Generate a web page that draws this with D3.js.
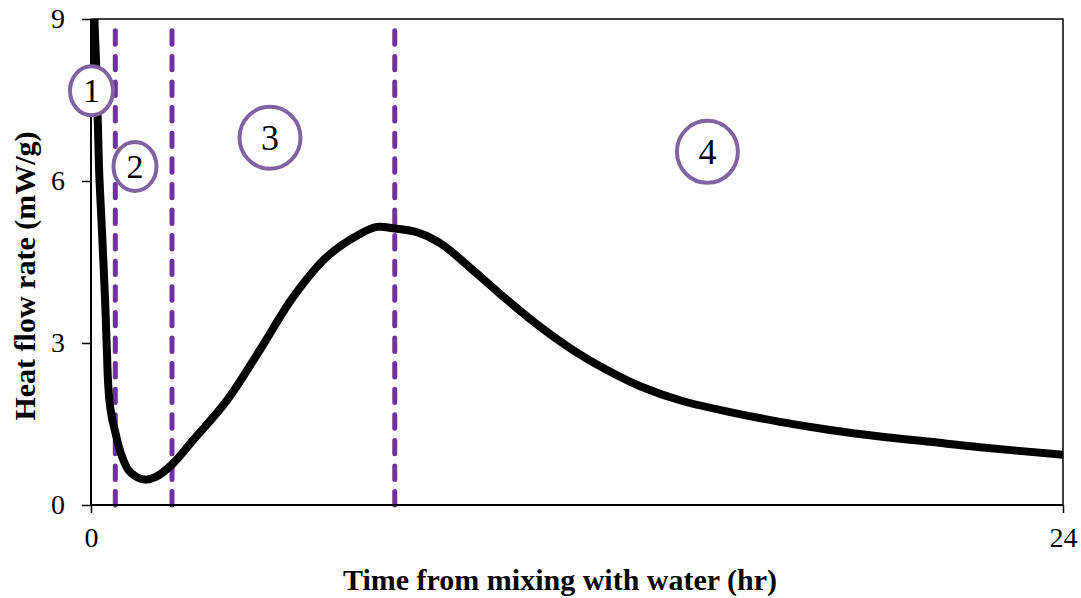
<!DOCTYPE html>
<html>
<head>
<meta charset="utf-8">
<script src="https://cdn.jsdelivr.net/npm/d3@7"></script>
<style>
  html, body { margin: 0; padding: 0; background: #fff; }
  svg { display: block; }
  text { font-family: "Liberation Serif", "Times New Roman", serif; fill: #000; }
</style>
</head>
<body>
<svg id="chart" width="1081" height="598"></svg>
<script>
// Heat flow calorimetry curve (mW/g) against time since mixing (hr)
const timeHr = [0.05, 0.086, 0.14, 0.2, 0.25, 0.3, 0.35, 0.39, 0.42, 0.46, 0.52, 0.59, 0.68, 0.77, 0.92, 1.1, 1.33, 1.6, 2.0, 2.52, 3.36, 4.17, 4.99, 5.83, 6.64, 7.06, 7.5, 8.05, 8.62, 9.43, 10.27, 11.09, 11.9, 12.74, 13.56, 14.54, 15.78, 17.01, 18.25, 19.48, 20.72, 21.95, 24];
const heatFlow = [11, 9.0, 7.9, 6.2, 5.4, 4.6, 3.75, 2.9, 2.3, 1.9, 1.6, 1.38, 1.1, 0.89, 0.65, 0.53, 0.47, 0.52, 0.75, 1.2, 1.94, 2.87, 3.85, 4.6, 5.02, 5.15, 5.12, 5.05, 4.85, 4.35, 3.80, 3.30, 2.87, 2.5, 2.2, 1.94, 1.72, 1.54, 1.39, 1.27, 1.17, 1.07, 0.93];

// Boundaries between hydration stages (hr)
const stageBounds = [0.6, 2.0, 7.5];

// Stage markers: label, time (hr), heat flow (mW/g), size
const stageLabels = ["1", "2", "3", "4"];
const stageTime = [0.012, 1.086, 4.42, 15.22];
const stageFlow = [7.67, 6.27, 6.80, 6.54];
const stageBig = [false, false, true, true];

const xTicks = [0, 24];
const yTicks = [0, 3, 6, 9];

const svg = d3.select("#chart");
const margin = { left: 91, right: 18, top: 19, bottom: 93 };
const W = 1081, H = 598;

const x = d3.scaleLinear().domain([0, 24]).range([margin.left, W - margin.right]);
const y = d3.scaleLinear().domain([0, 9]).range([H - margin.bottom, margin.top]);

svg.append("defs").append("clipPath").attr("id", "plotClip")
  .append("rect")
  .attr("x", x(0)).attr("y", y(9))
  .attr("width", x(24) - x(0)).attr("height", y(0) - y(9));

// Frame: top and right edges
svg.append("path")
  .attr("d", `M${x(0)},${y(9)}H${x(24)}V${y(0)}`)
  .attr("fill", "none").attr("stroke", "#000").attr("stroke-width", 1.5);

// Stage boundary lines
svg.append("g").selectAll("line").data(stageBounds).join("line")
  .attr("x1", d => x(d)).attr("x2", d => x(d))
  .attr("y1", y(9)).attr("y2", y(0))
  .attr("stroke", "#7030A0").attr("stroke-width", 5)
  .attr("stroke-linecap", "round")
  .attr("stroke-dasharray", "13.4,12.2")
  .attr("stroke-dashoffset", 13.8);

// Heat flow curve
const pts = timeHr.map((t, i) => [t, heatFlow[i]]);
svg.append("path")
  .datum(pts)
  .attr("clip-path", "url(#plotClip)")
  .attr("fill", "none").attr("stroke", "#000").attr("stroke-width", 8)
  .attr("stroke-linejoin", "round")
  .attr("d", d3.line().x(d => x(d[0])).y(d => y(d[1])).curve(d3.curveCatmullRom.alpha(0.5)));

// Axes
const yAxis = svg.append("g").attr("transform", `translate(${x(0)},0)`)
  .call(d3.axisLeft(y).tickValues(yTicks).tickFormat(d3.format("d")).tickSize(9).tickPadding(17));
const xAxis = svg.append("g").attr("transform", `translate(0,${y(0)})`)
  .call(d3.axisBottom(x).tickValues(xTicks).tickFormat(d3.format("d")).tickSize(8).tickPadding(14));
[yAxis, xAxis].forEach(g => {
  g.select(".domain").attr("stroke", "#000").attr("stroke-width", 2);
  g.selectAll(".tick line").attr("stroke", "#000").attr("stroke-width", 1.5);
  g.selectAll(".tick text").attr("font-family", "Liberation Serif, Times New Roman, serif")
    .attr("font-size", 28).attr("fill", "#000");
});
xAxis.select(".domain").attr("d", `M${x(0)},0H${x(24)}`);
yAxis.select(".domain").attr("d", `M0,${y(0)}V${y(9)}`);

// Axis titles
svg.append("text")
  .attr("x", 560).attr("y", 590)
  .attr("text-anchor", "middle")
  .attr("font-weight", "bold").attr("font-size", 30)
  .text("Time from mixing with water (hr)");

svg.append("text")
  .attr("transform", `translate(35,${(y(0) + y(9)) / 2 + 14}) rotate(-90)`)
  .attr("text-anchor", "middle")
  .attr("font-weight", "bold").attr("font-size", 30)
  .text("Heat flow rate (mW/g)");

// Stage markers
const markers = svg.append("g").selectAll("g").data(stageLabels).join("g")
  .attr("transform", (d, i) => `translate(${x(stageTime[i])},${y(stageFlow[i])})`);
markers.append("ellipse")
  .attr("rx", (d, i) => stageBig[i] ? 30.5 : 21.5)
  .attr("ry", (d, i) => stageBig[i] ? 31 : 24.5)
  .attr("fill", "#fff").attr("stroke", "#8064A2").attr("stroke-width", 4);
markers.append("text")
  .attr("text-anchor", "middle")
  .attr("dy", "0.34em")
  .attr("font-size", (d, i) => stageBig[i] ? 36 : 34)
  .text(d => d);
</script>
</body>
</html>
